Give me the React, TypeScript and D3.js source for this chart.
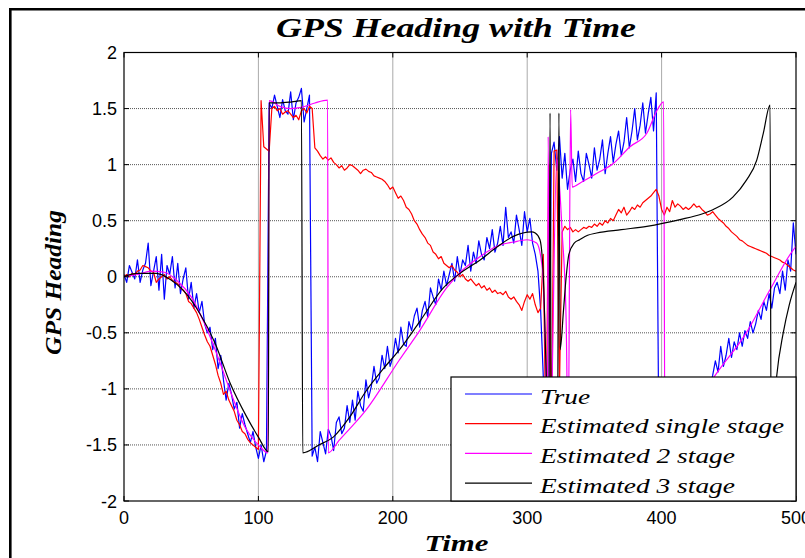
import React from 'react';
import * as d3 from 'd3';

const W = 805;
const H = 558;

const xTicks = [0, 100, 200, 300, 400, 500];
const yTicks = [-2, -1.5, -1, -0.5, 0, 0.5, 1, 1.5, 2];
const sampleStep = 2;

// True heading, sampled every 2 time units from t=0 to t=500
const trueHeading = [
  0.02, -0.05, 0.10, 0.04, -0.02,
  0.15, -0.05, 0.06, 0.12, 0.30,
  -0.08, 0.05, 0.18, -0.12, 0.20,
  -0.20, 0.10, 0.02, 0.18, -0.10,
  0.12, -0.15, -0.02, 0.08, -0.20,
  -0.05, -0.28, -0.15, -0.32, -0.22,
  -0.42, -0.50, -0.45, -0.65, -0.55,
  -0.82, -0.70, -0.92, -1.10, -0.95,
  -1.05, -1.18, -1.12, -1.35, -1.22,
  -1.32, -1.40, -1.48, -1.38, -1.52,
  -1.62, -1.50, -1.65, -1.55, 1.55,
  1.50, 1.62, 1.52, 1.42, 1.58,
  1.48, 1.45, 1.65, 1.40, 1.55,
  1.60, 1.68, 1.38, 1.50, 1.62,
  -1.60, -1.52, -1.65, -1.38, -1.48,
  -1.58, -1.36, -1.42, -1.55, -1.30,
  -1.25, -1.40, -1.35, -1.15, -1.30,
  -1.10, -1.28, -1.02, -1.15, -1.20,
  -0.92, -1.08, -0.98, -0.80, -0.95,
  -0.90, -0.70, -0.82, -0.62, -0.80,
  -0.72, -0.55, -0.68, -0.45, -0.60,
  -0.62, -0.40, -0.48, -0.35, -0.28,
  -0.45, -0.30, -0.22, -0.36, -0.10,
  -0.18, -0.25, -0.02, -0.12, 0.05,
  -0.08, 0.02, 0.12, -0.04, 0.18,
  0.02, 0.15, 0.10, 0.28, 0.05,
  0.22, 0.12, 0.32, 0.20, 0.15,
  0.35, 0.25, 0.42, 0.22, 0.30,
  0.45, 0.28, 0.62, 0.35, 0.40,
  0.30, 0.55, 0.42, 0.28, 0.58,
  0.40, 0.52, 0.30, 0.20, 0.05,
  -0.30, -0.90, -1.57, -1.50, 1.10,
  1.20, 0.95, 1.25, 0.88, 1.10,
  0.78, 0.95, 1.05, 0.85, 1.12,
  0.92, 0.85, 1.10, 1.00, 0.88,
  1.15, 0.95, 1.05, 1.22, 0.92,
  1.10, 1.25, 1.02, 1.18, 1.30,
  1.08, 1.20, 1.42, 1.15, 1.30,
  1.50, 1.22, 1.35, 1.55, 1.28,
  1.45, 1.60, 1.30, 1.64, -1.55,
  -1.50, -1.42, -1.48, -1.38, -1.42,
  -1.30, -1.35, -1.25, -1.30, -1.18,
  -1.22, -1.12, -1.16, -1.05, -1.10,
  -1.00, -1.05, -0.95, -0.98, -0.88,
  -0.75, -0.85, -0.62, -0.80, -0.70,
  -0.55, -0.72, -0.58, -0.65, -0.50,
  -0.62, -0.48, -0.55, -0.40, -0.50,
  -0.42, -0.30, -0.38, -0.22, -0.30,
  -0.15, -0.28, -0.10, -0.05, -0.15,
  0.05, -0.12, 0.15, 0.05, 0.48,
  0.20,
];

// Estimated single stage, sampled every 2 time units
const singleStage = [
  0.00, 0.02, 0.00, 0.03, 0.02,
  0.05, 0.06, 0.10, 0.09, 0.08,
  0.05, 0.04, -0.05, -0.02, 0.00,
  0.02, -0.02, 0.00, -0.03, -0.05,
  -0.06, -0.10, -0.12, -0.15, -0.22,
  -0.24, -0.28, -0.32, -0.38, -0.45,
  -0.52, -0.58, -0.62, -0.70, -0.78,
  -0.88, -0.95, -1.05, -1.02, -1.10,
  -1.15, -1.20, -1.28, -1.32, -1.38,
  -1.40, -1.45, -1.48, -1.50, -1.52,
  -1.54, 1.57, 1.16, 1.14, 1.12,
  1.50, 1.52, 1.48, 1.50, 1.45,
  1.47, 1.48, 1.45, 1.42, 1.44,
  1.40, 1.48, 1.50, 1.46, 1.52,
  1.50, 1.15, 1.12, 1.08, 1.05,
  1.07, 1.04, 1.06, 1.02, 1.00,
  0.97, 0.99, 0.95, 0.97, 1.00,
  0.99, 0.97, 0.95, 0.92, 0.95,
  0.96, 0.94, 0.93, 0.90, 0.89,
  0.88, 0.87, 0.85, 0.82, 0.78,
  0.80, 0.75, 0.70, 0.72, 0.68,
  0.62, 0.60, 0.56, 0.50, 0.47,
  0.42, 0.38, 0.35, 0.30, 0.28,
  0.22, 0.20, 0.16, 0.18, 0.12,
  0.10, 0.08, 0.10, 0.06, 0.04,
  0.00, 0.02, -0.02, -0.04, -0.02,
  -0.05, -0.08, -0.06, -0.10, -0.08,
  -0.12, -0.10, -0.14, -0.12, -0.15,
  -0.14, -0.16, -0.13, -0.18, -0.20,
  -0.18, -0.22, -0.25, -0.30, -0.22,
  -0.16, -0.20, -0.15, -0.25, -0.32,
  -0.28, 0.20, -1.57, 1.00, -1.57,
  1.12, 1.13, -1.00, 0.40, 0.45,
  0.42, 0.44, 0.40, 0.42, 0.40,
  0.42, 0.44, 0.43, 0.45, 0.44,
  0.47, 0.45, 0.48, 0.46, 0.50,
  0.48, 0.52, 0.50, 0.55, 0.60,
  0.57, 0.62, 0.55, 0.58, 0.62,
  0.60, 0.64, 0.62, 0.66, 0.68,
  0.70, 0.72, 0.75, 0.78, 0.72,
  0.60, 0.55, 0.62, 0.58, 0.68,
  0.62, 0.65, 0.63, 0.60, 0.62,
  0.60, 0.62, 0.65, 0.62, 0.63,
  0.60, 0.58, 0.55, 0.56, 0.58,
  0.55, 0.52, 0.50, 0.48, 0.45,
  0.43, 0.40, 0.38, 0.36, 0.33,
  0.32, 0.30, 0.28, 0.27, 0.26,
  0.25, 0.24, 0.23, 0.22, 0.21,
  0.19, 0.18, 0.17, 0.16, 0.15,
  0.13, 0.12, 0.10, 0.08, 0.06,
  0.05,
];

// Estimated 2 stage: [time, heading]
const twoStage: [number, number][] = [
  [0, 0.0], [10, 0.02], [20, 0.05], [30, 0.04], [40, -0.04], [50, -0.18],
  [60, -0.42], [70, -0.72], [80, -1.05], [90, -1.34], [100, -1.5], [107, -1.57],
  [108, 1.57], [116, 1.52], [124, 1.5], [132, 1.51], [142, 1.55], [151.5, 1.575],
  [152, -1.57], [160, -1.46], [180, -1.19], [205, -0.74], [220, -0.48], [240, -0.1],
  [252, 0.06], [265, 0.18], [277, 0.27], [290, 0.31], [300, 0.33], [307, 0.3],
  [311, 0.1], [313.5, -0.6], [315, -1.57], [315.6, 1.25], [317, -1.57], [322, 1.05],
  [326, 0.4], [329, -0.4], [330.5, -1.57], [332.3, 1.49], [333.5, 0.8], [340, 0.84],
  [351.6, 0.92], [364, 1.01], [376.5, 1.16], [389, 1.28], [396, 1.47], [401.5, 1.56],
  [402.5, -1.57], [420, -1.24], [441, -0.86], [463, -0.5], [480, -0.13], [498, 0.24],
  [500, 0.27],
];

// Estimated 3 stage: [time, heading]
const threeStage: [number, number][] = [
  [0, 0.0], [10, 0.03], [24, 0.03], [35, -0.03], [44, -0.12], [56.5, -0.33],
  [67.7, -0.59], [79, -0.95], [91.3, -1.25], [100, -1.43], [107.4, -1.56],
  [108, 1.55], [115, 1.55], [125, 1.56], [132, 1.57], [133, -1.57], [145, -1.5],
  [155.7, -1.43], [168, -1.25], [180.6, -1.01], [193, -0.82], [205, -0.65],
  [220, -0.4], [237.6, -0.1], [250, 0.03], [265, 0.15], [277, 0.26], [289.7, 0.36],
  [303.3, 0.4], [306, 0.39], [309.5, 0.33], [312, 0.0], [314, -0.8], [316, -1.57],
  [317, 1.46], [318, -1.57], [322.5, -1.57], [323.6, 1.46], [324.5, -0.65],
  [327, -0.3], [329, 0.0], [331, 0.2], [335, 0.3], [339, 0.33], [345, 0.37],
  [351.7, 0.39], [370, 0.42], [389, 0.45], [413.7, 0.51], [430, 0.56], [438.5, 0.6],
  [453, 0.71], [463, 0.86], [470.8, 1.04], [475.7, 1.28], [480.7, 1.53],
  [481.5, -1.57], [485.6, -0.89], [490.5, -0.5], [495, -0.25], [500, -0.05],
];

const legendLabels = ['True', 'Estimated single stage', 'Estimated 2 stage', 'Estimated 3 stage'];
const seriesColors = ['#0000ff', '#ff0000', '#ff00ff', '#000000'];

export default function App() {
  const left = 124, right = 796, top = 52.5, bottom = 501;
  const x = d3.scaleLinear().domain([0, 500]).range([left, right]);
  const y = d3.scaleLinear().domain([-2, 2]).range([bottom, top]);

  const toPairs = (arr: number[]) => arr.map((v, i) => [i * sampleStep, v] as [number, number]);
  const lin = d3.line<[number, number]>().x(d => x(d[0])).y(d => y(d[1]));
  const smooth = d3.line<[number, number]>().x(d => x(d[0])).y(d => y(d[1])).curve(d3.curveMonotoneX);

  const paths = [
    lin(toPairs(trueHeading)),
    lin(toPairs(singleStage)),
    smooth(twoStage),
    smooth(threeStage),
  ];

  const tickLen = 5;
  const serif = "'Liberation Serif', 'Times New Roman', serif";
  const sans = "'Liberation Sans', Arial, sans-serif";

  const legX = 451, legY = 377, legW = right - 451, legH = bottom - 377;
  const legendWidths = [50, 244, 195, 195];

  return (
    <svg width={W} height={H} style={{ position: 'absolute', left: 0, top: 0, background: '#fff' }}>
      <rect x={0} y={0} width={W} height={H} fill="#fff" />
      <path d={`M10.3,${H + 10} L10.3,9.3 L${W + 10},9.3`} fill="none" stroke="#000" strokeWidth={2.6} />

      <defs>
        <clipPath id="plotClip">
          <rect x={left} y={top} width={right - left} height={bottom - top} />
        </clipPath>
      </defs>

      {/* grid */}
      {xTicks.filter(t => t > 0 && t < 500).map(t => (
        <line key={'gx' + t} x1={x(t)} x2={x(t)} y1={top} y2={bottom} stroke="#555" strokeWidth={1} strokeDasharray="1,1" />
      ))}
      {yTicks.filter(t => t > -2 && t < 2).map(t => (
        <line key={'gy' + t} x1={left} x2={right} y1={y(t)} y2={y(t)} stroke="#555" strokeWidth={1} strokeDasharray="1,1" />
      ))}

      {/* data */}
      <g clipPath="url(#plotClip)">
        {paths.map((d, i) => (
          <path key={i} d={d || ''} fill="none" stroke={seriesColors[i]} strokeWidth={1.2} strokeLinejoin="round" />
        ))}
      </g>

      {/* axes box */}
      <rect x={left} y={top} width={right - left} height={bottom - top} fill="none" stroke="#000" strokeWidth={1.2} />
      {xTicks.map(t => (
        <g key={'tx' + t}>
          <line x1={x(t)} x2={x(t)} y1={bottom} y2={bottom - tickLen} stroke="#000" />
          <line x1={x(t)} x2={x(t)} y1={top} y2={top + tickLen} stroke="#000" />
          <text x={x(t)} y={523.5} textAnchor="middle" fontFamily={sans} fontSize={18}>{t}</text>
        </g>
      ))}
      {yTicks.map(t => (
        <g key={'ty' + t}>
          <line x1={left} x2={left + tickLen} y1={y(t)} y2={y(t)} stroke="#000" />
          <line x1={right} x2={right - tickLen} y1={y(t)} y2={y(t)} stroke="#000" />
          <text x={117} y={y(t) + 6.5} textAnchor="end" fontFamily={sans} fontSize={18}>{String(t)}</text>
        </g>
      ))}

      {/* legend */}
      <rect x={legX} y={legY} width={legW} height={legH} fill="#fff" stroke="#000" strokeWidth={1.2} />
      {legendLabels.map((lab, i) => {
        const base = 403.5 + i * 29.7;
        return (
          <g key={lab}>
            <line x1={465} x2={532} y1={base - 9.5} y2={base - 9.5} stroke={seriesColors[i]} strokeWidth={1.2} />
            <text x={540} y={base} fontFamily={serif} fontStyle="italic" fontSize={22}
              textLength={legendWidths[i]} lengthAdjust="spacingAndGlyphs">{lab}</text>
          </g>
        );
      })}

      {/* titles */}
      <text x={456} y={37} textAnchor="middle" fontFamily={serif} fontStyle="italic" fontWeight="bold" fontSize={28}
        textLength={360} lengthAdjust="spacingAndGlyphs">GPS Heading with Time</text>
      <text x={456.5} y={551} textAnchor="middle" fontFamily={serif} fontStyle="italic" fontWeight="bold" fontSize={24}
        textLength={64} lengthAdjust="spacingAndGlyphs">Time</text>
      <text transform="translate(61,282.5) rotate(-90)" textAnchor="middle" fontFamily={serif} fontStyle="italic"
        fontWeight="bold" fontSize={24} textLength={145} lengthAdjust="spacingAndGlyphs">GPS Heading</text>
    </svg>
  );
}
